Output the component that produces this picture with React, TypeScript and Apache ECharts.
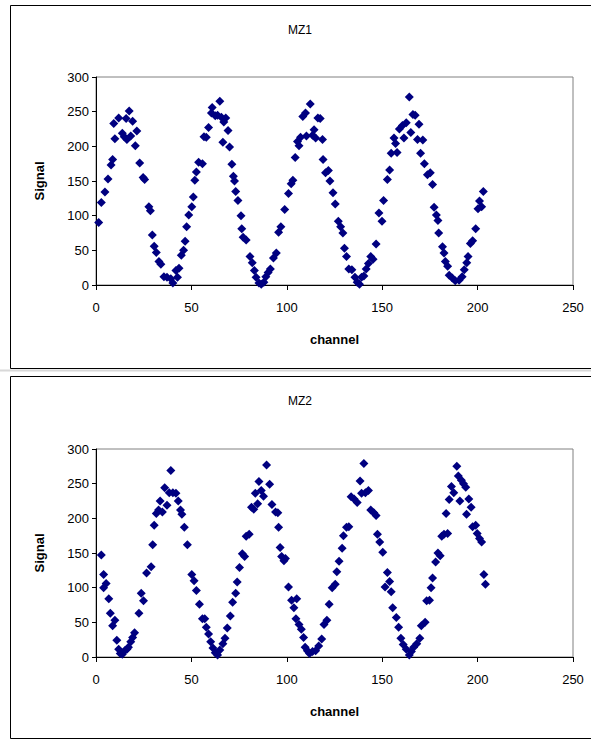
import React, { useEffect, useRef } from "react";
import * as echarts from "echarts";

const titles = ["MZ1", "MZ2"];
const xAxisName = "channel";
const yAxisName = "Signal";

// [channel, signal]
const mz1: number[][] = [
  [1.4, 90], [2.8, 119], [4.7, 134], [6.3, 153], [7.9, 173], [8.7, 181], [9.3, 233], [9.9, 211],
  [11.9, 241], [13.8, 219], [14.8, 214], [15.8, 240], [16.2, 210], [17.4, 251], [18.2, 215],
  [19.2, 236], [20.6, 201], [21.4, 222], [22.9, 176], [24.7, 155], [25.5, 152], [27.7, 113],
  [28.5, 107], [29.5, 72], [30.5, 56], [31.6, 47], [33, 34], [34, 30], [35.6, 12], [37.2, 11],
  [39.2, 9], [40.3, 3], [41.9, 21], [42.7, 11], [43.5, 24], [44.7, 43], [45.9, 50], [46.7, 63],
  [47.5, 84], [48.6, 101], [50.2, 113], [51, 127], [51.8, 151], [52.6, 163], [53.8, 177],
  [55.8, 175], [56.6, 214], [57.8, 213], [59, 227], [60.5, 248], [60.9, 256], [62.5, 244],
  [63.7, 245], [64.9, 265], [65.7, 242], [66.5, 206], [67, 235], [68, 241], [69.2, 223],
  [70, 199], [71.2, 174], [72, 157], [72.6, 150], [73.2, 135], [74.4, 122], [76, 100],
  [76.4, 81], [77.1, 69], [78.7, 65], [80.7, 41], [81.9, 32], [83, 21], [83.9, 11], [85.4, 3],
  [86.6, 1], [88, 4], [89, 12], [90.2, 18], [91.4, 23], [93, 39], [94.5, 46], [95.7, 76],
  [96.9, 84], [98.9, 109], [100.9, 132], [102.3, 146], [103.2, 151], [104.4, 184], [105.6, 207],
  [106.4, 201], [107.2, 213], [108.4, 243], [109.8, 248], [110.3, 215], [112.3, 261],
  [113.5, 216], [114.3, 224], [115.1, 212], [116.3, 241], [117.5, 240], [118.7, 210],
  [119, 181], [120.3, 162], [121.8, 165], [122.6, 150], [124.2, 133], [125.4, 117], [127, 92],
  [128.2, 84], [129.4, 75], [130.2, 53], [131.3, 41], [132.5, 23], [134.1, 22], [135.7, 11],
  [136.9, 4], [138.1, 1], [139.2, 11], [140.4, 13], [141.6, 23], [142.8, 31], [144, 41],
  [145.2, 37], [146.8, 59], [148.3, 104], [149.9, 92], [150.7, 122], [152.7, 152], [153.9, 166],
  [154.7, 190], [156.2, 212], [157, 204], [157.8, 191], [159, 225], [160.6, 230], [161.4, 212],
  [162.6, 234], [164.2, 271], [165, 220], [166.1, 246], [167.3, 245], [168.5, 210], [169.3, 232],
  [170.1, 190], [171.3, 209], [172.1, 175], [173.7, 159], [175.2, 162], [176.4, 145],
  [177.2, 112], [178.4, 101], [179.2, 93], [179.6, 75], [181.6, 55], [182.4, 46], [183.1, 34],
  [184.3, 27], [185.1, 14], [186.7, 10], [188.3, 6], [190.3, 7], [191.9, 12], [193, 22],
  [194.3, 32], [195, 41], [196.2, 60], [197.4, 64], [199, 81], [200.2, 110], [201, 121],
  [202.1, 113], [203, 135],
];

const mz2: number[][] = [
  [2.8, 147], [4, 119], [4, 100], [5.3, 106], [6.7, 84], [7.5, 63], [8.7, 45], [9.9, 53],
  [10.9, 24], [11.9, 11], [12.7, 5], [13.8, 4], [15, 9], [16.2, 11], [17, 14], [18.2, 22],
  [19.2, 28], [20.2, 35], [22.5, 63], [23.7, 92], [24.9, 81], [26.5, 121], [28.9, 130],
  [29.7, 162], [30.5, 190], [31.6, 207], [32.8, 212], [33.6, 225], [34.8, 209], [36, 244],
  [37.2, 219], [38.4, 237], [39.2, 269], [40.3, 237], [41.9, 236], [43.1, 225], [44.3, 212],
  [45, 206], [46.3, 187], [47.9, 162], [50.2, 119], [51.4, 110], [52.6, 96], [54.2, 76],
  [55.8, 55], [57, 55], [57.8, 43], [59, 33], [60.1, 22], [61.3, 13], [62.5, 6], [63.7, 3],
  [64.9, 10], [66.5, 19], [67.6, 27], [68.8, 42], [70.4, 59], [71.6, 79], [73.2, 92], [74, 108],
  [75.2, 129], [76.7, 149], [77.9, 145], [78.7, 174], [80.3, 177], [81.5, 216], [82.7, 213],
  [83.5, 236], [84.7, 221], [85.4, 253], [86.6, 240], [87.8, 232], [89.4, 277], [91, 249],
  [92.2, 220], [94.1, 209], [95.3, 208], [95.7, 187], [96.5, 158], [97.3, 145], [98.5, 139],
  [99.3, 142], [100.9, 101], [102.5, 82], [103.7, 71], [105.2, 84], [104.8, 55], [106.4, 47],
  [107.6, 40], [108.8, 28], [109.6, 14], [110.8, 9], [111.9, 5], [113.5, 8], [115.1, 9],
  [116.7, 16], [118.3, 26], [119.5, 47], [121, 53], [122.2, 76], [123.8, 100], [125.4, 105],
  [126.2, 123], [127.4, 138], [129, 157], [129.7, 175], [131.3, 187], [132.5, 188], [133.7, 231],
  [135.3, 228], [136.9, 223], [138.4, 254], [139.2, 236], [140.4, 279], [141.2, 237],
  [142.8, 240], [144, 212], [145.6, 208], [146.8, 204], [147.5, 177], [148.7, 166], [150.3, 151],
  [151.5, 101], [152.7, 122], [153.9, 109], [154.7, 94], [155.5, 71], [157.4, 57], [158.6, 43],
  [159.8, 27], [161, 18], [162.6, 11], [164.2, 3], [165.3, 8], [166.5, 14], [168.1, 19],
  [169.7, 27], [170.5, 45], [172.5, 50], [173.3, 81], [174.8, 82], [175.6, 100], [176.4, 114],
  [178, 137], [179.2, 150], [180.4, 146], [181.2, 174], [182.4, 177], [183.5, 207], [184.3, 178],
  [185.1, 227], [186.3, 246], [187.5, 237], [189.1, 275], [189.9, 261], [190.7, 225],
  [191.5, 255], [192.6, 250], [193.8, 245], [194.2, 206], [195.4, 228], [196.6, 216],
  [197.4, 188], [199, 190], [199.8, 178], [201, 171], [202.1, 166], [203.3, 119], [204.1, 105],
];

const seriesData = [mz1, mz2];

const FONT = "Liberation Sans, Arial, sans-serif";

export default function App() {
  const ref = useRef<HTMLDivElement>(null);
  useEffect(() => {
    if (!ref.current) return;
    const chart = echarts.init(ref.current, null, { renderer: "svg" });
    const gridTops = [77, 449];
    const panelTops = [5, 376];
    const panelH = [363, 362];
    const grids = gridTops.map((t) => ({
      left: 96,
      right: 18,
      top: t,
      height: 208,
      show: true,
      borderColor: "#808080",
      borderWidth: 1,
      backgroundColor: "transparent",
    }));
    const xAxes = gridTops.map((_, i) => ({
      type: "value",
      gridIndex: i,
      min: 0,
      max: 250,
      interval: 50,
      name: xAxisName,
      nameLocation: "middle",
      nameGap: 48,
      nameTextStyle: { fontFamily: FONT, fontSize: 13, fontWeight: "bold", color: "#000" },
      axisLine: { show: true, lineStyle: { color: "#000", width: 1 } },
      axisTick: { show: true, length: 5, lineStyle: { color: "#000" } },
      axisLabel: { fontFamily: FONT, fontSize: 13, color: "#000", margin: 16 },
      splitLine: { show: false },
    }));
    const yAxes = gridTops.map((_, i) => ({
      type: "value",
      gridIndex: i,
      min: 0,
      max: 300,
      interval: 50,
      name: yAxisName,
      nameLocation: "middle",
      nameGap: 50,
      nameRotate: 90,
      nameTextStyle: { fontFamily: FONT, fontSize: 13, fontWeight: "bold", color: "#000" },
      axisLine: { show: true, lineStyle: { color: "#000", width: 1 } },
      axisTick: { show: true, length: 4, lineStyle: { color: "#000" } },
      axisLabel: { fontFamily: FONT, fontSize: 13, color: "#000", margin: 7 },
      splitLine: { show: false },
    }));
    const series = seriesData.map((d, i) => ({
      type: "scatter",
      xAxisIndex: i,
      yAxisIndex: i,
      data: d,
      symbol: "diamond",
      symbolSize: 9,
      itemStyle: { color: "#000080", opacity: 1 },
      silent: true,
    }));
    const graphic: any[] = [];
    panelTops.forEach((t, i) => {
      graphic.push({
        type: "rect",
        shape: { x: 10.5, y: t + 0.5, width: 600, height: panelH[i] },
        style: { fill: "none", stroke: "#000", lineWidth: 1 },
        silent: true,
      });
      graphic.push({
        type: "text",
        x: 300,
        y: t + 25,
        style: {
          text: titles[i],
          fontFamily: FONT,
          fontSize: 12,
          fill: "#000",
          textAlign: "center",
          textVerticalAlign: "middle",
        },
        silent: true,
      });
    });
    graphic.push({
      type: "line",
      shape: { x1: 0, y1: 370.5, x2: 591, y2: 370.5 },
      style: { stroke: "#d8d8d8", lineWidth: 2 },
      silent: true,
    });
    chart.setOption({
      animation: false,
      backgroundColor: "#fff",
      grid: grids,
      xAxis: xAxes,
      yAxis: yAxes,
      series,
      graphic,
    });
    return () => chart.dispose();
  }, []);
  return (
    <div
      ref={ref}
      style={{ position: "absolute", left: 0, top: 0, width: 591, height: 740 }}
    />
  );
}
